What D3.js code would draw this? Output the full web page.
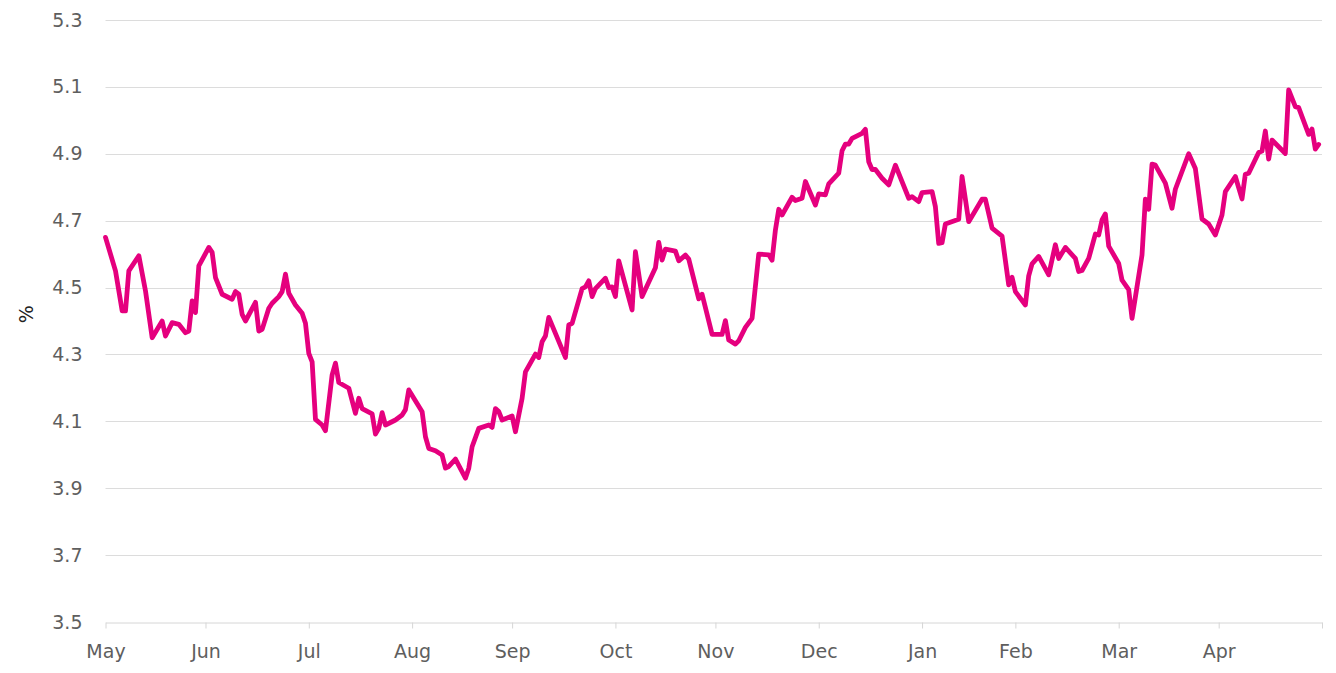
<!DOCTYPE html>
<html>
<head>
<meta charset="utf-8">
<script src="https://cdn.jsdelivr.net/npm/d3@7"></script>
<style>
  html, body { margin: 0; padding: 0; background: #ffffff; }
  svg { display: block; }
  text { font-family: "DejaVu Sans", sans-serif; }
</style>
</head>
<body>
<svg id="chart" width="1336" height="673"></svg>
<script>
// ---- data ----
// axis ticks sit on the last day of each labelled month
const startDate = "2024-05-31";
const endDate = "2025-05-31";
// days since startDate
const dayOffsets = [
  0, 3, 5, 6, 7, 10, 12, 14, 17, 18, 20, 22, 24, 25, 26, 27, 28, 31, 32, 33,
  35, 38, 39, 40, 41, 42, 45, 46, 47, 49, 50, 52, 53, 54, 55, 57, 59, 60, 61, 62,
  63, 65, 66, 68, 69, 70, 73, 75, 76, 77, 80, 81, 82, 83, 84, 87, 89, 90, 91, 95,
  96, 97, 99, 101, 102, 103, 105, 108, 109, 110, 112, 115, 116, 117, 118, 119, 122, 123, 125, 126,
  129, 130, 131, 132, 133, 138, 139, 140, 143, 144, 145, 146, 147, 150, 151, 152, 153, 154, 158, 159,
  161, 165, 166, 167, 168, 171, 172, 174, 175, 178, 179, 182, 185, 186, 187, 189, 190, 192, 194, 196,
  199, 200, 201, 202, 203, 206, 207, 209, 210, 213, 214, 216, 217, 220, 221, 222, 223, 224, 227, 228,
  229, 230, 231, 233, 235, 237, 241, 242, 244, 245, 248, 249, 250, 251, 252, 256, 257, 259, 263, 264,
  266, 269, 271, 272, 273, 276, 277, 278, 280, 283, 285, 286, 288, 291, 292, 293, 295, 297, 298, 299,
  300, 301, 304, 305, 307, 308, 311, 312, 313, 314, 315, 318, 320, 321, 325, 327, 329, 331, 333, 335,
  336, 339, 341, 342, 343, 346, 347, 348, 349, 350, 354, 355, 357, 358, 361, 362, 363, 364
];
const yields = [
  4.65, 4.55, 4.43, 4.43, 4.55, 4.595, 4.49, 4.35, 4.40, 4.355, 4.395, 4.39, 4.365, 4.37, 4.46, 4.425, 4.565, 4.62, 4.605, 4.53,
  4.48, 4.465, 4.488, 4.48, 4.42, 4.40, 4.456, 4.37, 4.375, 4.438, 4.453, 4.473, 4.488, 4.54, 4.483, 4.448, 4.423, 4.393, 4.303, 4.278,
  4.106, 4.089, 4.072, 4.239, 4.274, 4.216, 4.199, 4.124, 4.169, 4.138, 4.122, 4.062, 4.079, 4.126, 4.089, 4.104, 4.119, 4.135, 4.194, 4.129,
  4.054, 4.019, 4.012, 3.999, 3.960, 3.965, 3.987, 3.930, 3.960, 4.024, 4.079, 4.089, 4.082, 4.138, 4.129, 4.104, 4.116, 4.069, 4.169, 4.248,
  4.301, 4.291, 4.338, 4.355, 4.411, 4.291, 4.388, 4.393, 4.497, 4.502, 4.520, 4.473, 4.497, 4.528, 4.500, 4.502, 4.473, 4.580, 4.433, 4.607,
  4.473, 4.559, 4.635, 4.582, 4.615, 4.609, 4.580, 4.597, 4.585, 4.466, 4.480, 4.360, 4.360, 4.401, 4.343, 4.331, 4.341, 4.381, 4.408, 4.600,
  4.598, 4.582, 4.672, 4.734, 4.717, 4.770, 4.760, 4.767, 4.817, 4.747, 4.780, 4.777, 4.810, 4.842, 4.909, 4.929, 4.929, 4.946, 4.961, 4.973,
  4.876, 4.853, 4.853, 4.827, 4.807, 4.866, 4.767, 4.772, 4.757, 4.784, 4.787, 4.742, 4.632, 4.634, 4.690, 4.704, 4.832, 4.697, 4.764, 4.764,
  4.678, 4.654, 4.508, 4.531, 4.488, 4.448, 4.535, 4.571, 4.593, 4.538, 4.628, 4.587, 4.620, 4.587, 4.548, 4.551, 4.587, 4.660, 4.657, 4.702,
  4.720, 4.624, 4.572, 4.522, 4.494, 4.408, 4.598, 4.764, 4.734, 4.869, 4.866, 4.812, 4.737, 4.794, 4.900, 4.856, 4.705, 4.690, 4.657, 4.717,
  4.787, 4.832, 4.765, 4.839, 4.842, 4.904, 4.908, 4.968, 4.884, 4.941, 4.901, 5.091, 5.041, 5.038, 4.958, 4.974, 4.914, 4.928
];
const yTicks = [3.5, 3.7, 3.9, 4.1, 4.3, 4.5, 4.7, 4.9, 5.1, 5.3];
const monthLabels = ["May", "Jun", "Jul", "Aug", "Sep", "Oct", "Nov", "Dec", "Jan", "Feb", "Mar", "Apr", ""];
const yAxisTitle = "%";

// ---- chart ----
const parse = d3.timeParse("%Y-%m-%d");
const t0 = parse(startDate), t1 = parse(endDate);
const data = dayOffsets.map((d, i) => ({ date: d3.timeDay.offset(t0, d), value: yields[i] }));

const svg = d3.select("#chart");
const margin = { left: 105.5, right: 14, top: 20, bottom: 51 };
const W = 1336, H = 673;

const x = d3.scaleTime().domain([t0, t1]).range([margin.left, W - margin.right]);
const y = d3.scaleLinear().domain([3.5, 5.3]).range([H - margin.bottom, margin.top]);

// gridlines
svg.append("g")
  .selectAll("line")
  .data(yTicks.filter(v => v > 3.5))
  .join("line")
  .attr("x1", margin.left).attr("x2", W - margin.right)
  .attr("y1", d => Math.round(y(d)) + 0.5).attr("y2", d => Math.round(y(d)) + 0.5)
  .attr("stroke", "#dcdcdc").attr("stroke-width", 1);

// y labels
const yAxis = d3.axisLeft(y).tickValues(yTicks).tickFormat(d3.format(".1f")).tickSize(0).tickPadding(0);
const gy = svg.append("g").attr("transform", `translate(${margin.left - 23},0)`).call(yAxis);
gy.select(".domain").remove();
gy.selectAll("text").attr("font-size", 19).attr("fill", "#5e5e5e")
  .attr("font-family", "'DejaVu Sans', sans-serif");

// x axis: ticks on month ends
const monthEnds = d3.timeMonth.range(d3.timeDay.offset(t0, 1), d3.timeDay.offset(t1, 2))
  .map(m => d3.timeDay.offset(m, -1));
const xAxis = d3.axisBottom(x).tickValues(monthEnds)
  .tickFormat((d, i) => monthLabels[i] || "")
  .tickSize(6).tickSizeOuter(0).tickPadding(16);
const gx = svg.append("g").attr("transform", `translate(0,${Math.round(y(3.5)) + 0.5})`).call(xAxis);
gx.select(".domain").attr("stroke", "#d6d6d6");
gx.selectAll(".tick line").attr("stroke", "#d6d6d6");
gx.selectAll("text").attr("font-size", 19).attr("fill", "#5e5e5e")
  .attr("font-family", "'DejaVu Sans', sans-serif");

// y title
svg.append("text")
  .attr("transform", `translate(33,${y(4.42)}) rotate(-90)`)
  .attr("text-anchor", "middle")
  .attr("font-size", 19).attr("fill", "#222")
  .text(yAxisTitle);

// line
const line = d3.line().x(d => x(d.date)).y(d => y(d.value));
svg.append("path")
  .datum(data)
  .attr("d", line)
  .attr("fill", "none")
  .attr("stroke", "#e5007e")
  .attr("stroke-width", 4.8)
  .attr("stroke-linejoin", "round")
  .attr("stroke-linecap", "round");
</script>
</body>
</html>
